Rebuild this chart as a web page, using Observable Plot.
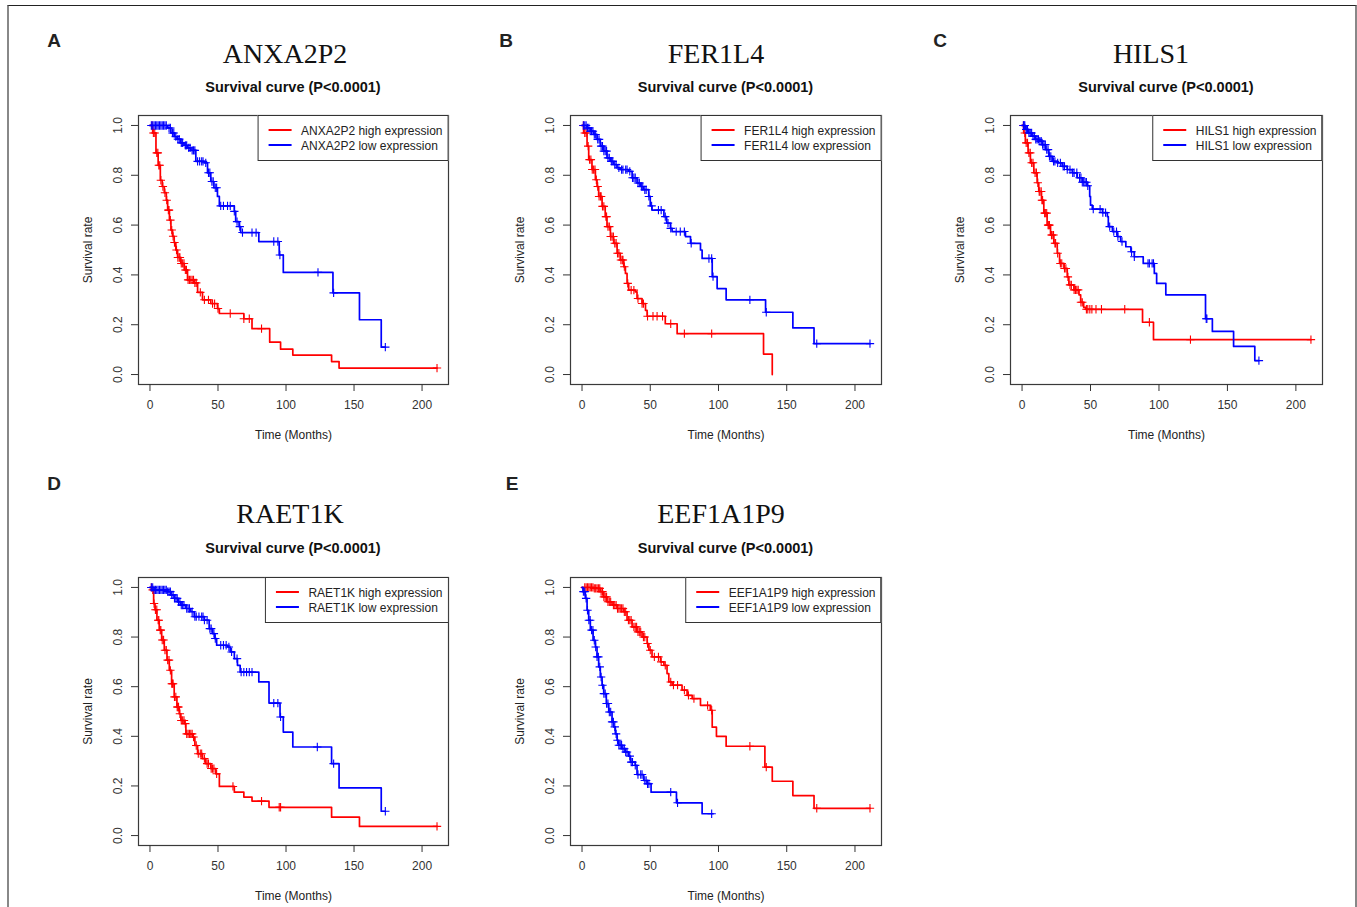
<!DOCTYPE html>
<html>
<head>
<meta charset="utf-8">
<script src="https://cdn.jsdelivr.net/npm/d3@7"></script>
<script src="https://cdn.jsdelivr.net/npm/@observablehq/plot@0.6"></script>
<style>
  html, body { margin: 0; padding: 0; background: #fff; }
  #fig { position: relative; width: 1357px; height: 907px; overflow: hidden; font-family: "Liberation Sans", Arial, sans-serif; color: #222; }
  .border { position: absolute; left: 7px; top: 5px; width: 1346px; height: 960px; border-top: 1.5px solid #222; border-left: 2px solid #888; border-right: 2px solid #888; }
  .letter { position: absolute; font-weight: bold; font-size: 19px; line-height: 1; transform: translate(-50%, -50%); }
  .title { position: absolute; font-family: "Liberation Serif", "Times New Roman", serif; font-size: 28px; line-height: 1; white-space: nowrap; transform: translate(-50%, -50%); color: #111; }
  .subtitle { position: absolute; font-weight: bold; font-size: 14.5px; line-height: 1; white-space: nowrap; transform: translate(-50%, -50%); color: #111; }
  .plotwrap { position: absolute; }
  .legend { position: absolute; transform: translateX(-100%); border: 1px solid #333; background: #fff; font-size: 12px; line-height: 15px; padding: 8px 5px 6px 10px; white-space: nowrap; color: #222; }
  .seg { display: inline-block; width: 23px; height: 2px; vertical-align: middle; margin-right: 10px; position: relative; top: -1px; }
</style>
</head>
<body>
<div id="fig"><div class="border"></div></div>
<script>
// ---------- data ----------
const genes = ["ANXA2P2", "FER1L4", "HILS1", "RAET1K", "EEF1A1P9"];
const panelLetters = ["A", "B", "C", "D", "E"];
const subtitleText = "Survival curve (P<0.0001)";
const xLabel = "Time (Months)";
const yLabel = "Survival rate";
const xTicks = [0, 50, 100, 150, 200];
const yTicks = [0, 0.2, 0.4, 0.6, 0.8, 1.0];
const groupNames = ["high expression", "low expression"];

// ANXA2P2
const anxaHighT = [0, 2, 4.4, 6, 7.6, 9, 10.5, 12, 13, 14.3, 15.4, 16.6, 17.8, 19, 20.3, 22.7, 25.2, 27.6, 32.5, 35, 38.6, 44.7, 49.6, 51, 69, 75, 88, 96, 105, 133.5, 139, 211];
const anxaHighS = [1, 0.97, 0.89, 0.84, 0.78, 0.755, 0.73, 0.70, 0.66, 0.62, 0.58, 0.555, 0.53, 0.50, 0.47, 0.446, 0.42, 0.38, 0.368, 0.33, 0.30, 0.285, 0.265, 0.245, 0.224, 0.184, 0.13, 0.102, 0.078, 0.052, 0.026, 0.026];
const anxaHighCens = [1.5, 2.5, 3.5, 5, 5.8, 6.5, 7.2, 8, 9.5, 11, 12.3, 13.5, 14, 15, 16, 17, 18, 19.5, 20.5, 21.5, 22, 23, 24, 25, 26, 26.8, 28, 29, 30, 31, 32, 33, 34, 37, 40, 43, 46, 47.5, 50, 59, 69, 73, 82, 211];
const anxaLowT = [0, 13, 15.4, 18, 20, 22.5, 25, 27.5, 30, 33.7, 40, 42.3, 44.7, 47, 49.6, 51, 62, 63, 65.5, 66.7, 80, 95, 98, 134.5, 154, 170, 173];
const anxaLowS = [1, 0.99, 0.97, 0.955, 0.945, 0.93, 0.92, 0.91, 0.90, 0.856, 0.85, 0.81, 0.775, 0.75, 0.715, 0.677, 0.655, 0.614, 0.594, 0.57, 0.534, 0.48, 0.41, 0.328, 0.22, 0.11, 0.11];
const anxaLowCens = [1, 2, 3, 4, 5, 6, 7, 8, 9, 10, 11, 12, 14, 15, 16.5, 17.5, 19, 20.5, 21.5, 23, 24, 26, 27, 28.5, 29.5, 31, 32, 33, 35, 36.5, 38, 39, 41, 43, 44, 45.5, 46.5, 48, 49, 52, 54, 57, 59, 62, 64, 66, 68, 75, 78, 91, 94, 95.5, 123.5, 135, 173];

// FER1L4
const ferHighT = [0, 1.2, 3.7, 4.9, 7.3, 9.8, 11, 12.2, 14.7, 17, 18.3, 20.8, 23.2, 25.7, 28, 30.6, 31.8, 33, 34.2, 39, 40.3, 44, 46.5, 47.7, 61, 69.7, 133, 139.4];
const ferHighS = [1, 0.97, 0.917, 0.863, 0.823, 0.782, 0.755, 0.715, 0.675, 0.634, 0.594, 0.554, 0.527, 0.487, 0.46, 0.433, 0.406, 0.366, 0.339, 0.332, 0.305, 0.285, 0.258, 0.234, 0.204, 0.164, 0.082, 0];
const ferHighCens = [1, 2, 3, 4.5, 5.5, 6.5, 7.5, 8.5, 9.5, 10.5, 11.5, 12.5, 13.5, 14, 15, 16, 17.5, 18, 19, 20, 21, 22, 23, 24, 25, 26, 27, 28.5, 29.5, 30, 31, 33.5, 36, 38, 41, 44, 45, 48, 52, 55, 59, 65, 75, 95];
const ferLowT = [0, 3.7, 6, 8.6, 11, 13.4, 15.9, 18.3, 20.8, 23.2, 25.7, 28, 34.2, 36.7, 40.3, 42.8, 45, 48.9, 50, 51.3, 60, 62, 64.8, 66, 75.8, 79.5, 86.8, 88, 95.4, 99, 105.6, 134.5, 154.5, 170, 211];
const ferLowS = [1, 0.99, 0.977, 0.964, 0.944, 0.917, 0.897, 0.87, 0.856, 0.843, 0.83, 0.823, 0.816, 0.79, 0.769, 0.755, 0.742, 0.715, 0.677, 0.66, 0.634, 0.608, 0.587, 0.574, 0.554, 0.527, 0.5, 0.466, 0.393, 0.345, 0.30, 0.25, 0.187, 0.124, 0.124];
const ferLowCens = [1, 2, 3, 4, 5, 6, 7, 8, 9, 10, 11.5, 12.5, 14, 15, 16, 17, 18, 19, 20, 21.5, 22.5, 24, 25, 27, 29, 30, 32, 33, 35, 37, 38, 39, 41, 42, 43.5, 44.5, 46, 47, 49, 51, 56, 58, 61, 63, 65, 69, 72, 75, 80, 93, 95, 96, 123, 135, 172, 211];

// HILS1
const hilsHighT = [0, 1.2, 2.4, 4.4, 6.1, 8.6, 11, 12.2, 14.2, 15.9, 18.3, 20.8, 23.2, 25.7, 27.4, 30.6, 33, 34.2, 37.9, 41.6, 42.8, 45, 46.5, 88, 96, 211];
const hilsHighS = [1, 0.97, 0.93, 0.89, 0.85, 0.81, 0.77, 0.735, 0.70, 0.648, 0.60, 0.56, 0.527, 0.487, 0.446, 0.426, 0.392, 0.36, 0.34, 0.32, 0.29, 0.27, 0.262, 0.21, 0.14, 0.14];
const hilsHighCens = [1, 2, 3, 4, 5, 6, 7, 8, 9.5, 10.5, 11.5, 12.5, 13, 14, 14.5, 15, 16.5, 17, 18, 19, 19.5, 20, 21.5, 22, 23, 24, 24.5, 26, 28, 29, 31, 32, 33.5, 35, 36, 38, 39, 40, 41, 43, 44, 47, 48, 49.5, 51, 54, 58, 75, 93, 123, 211];
const hilsLowT = [0, 2.4, 4.9, 7.3, 9.8, 12.2, 14.7, 17.1, 19.6, 22, 25.7, 29.3, 33, 36.7, 40.3, 44, 47.7, 49.4, 50, 51.3, 58.7, 62.3, 63, 66, 69.7, 72, 75.8, 79.5, 82, 88.5, 96.6, 98.3, 105, 134, 139, 154.5, 170, 173];
const hilsLowS = [1, 0.984, 0.97, 0.957, 0.944, 0.937, 0.923, 0.903, 0.876, 0.856, 0.85, 0.836, 0.823, 0.81, 0.79, 0.772, 0.758, 0.715, 0.68, 0.664, 0.65, 0.634, 0.594, 0.574, 0.554, 0.534, 0.513, 0.493, 0.473, 0.446, 0.406, 0.366, 0.32, 0.224, 0.173, 0.113, 0.056, 0.056];
const hilsLowCens = [1, 1.5, 2, 3, 3.5, 4, 5, 6, 7, 8, 9, 10, 11, 12, 13, 14, 15, 16, 17, 18, 19, 20, 21, 23, 24, 26, 28, 30, 31, 33, 35, 37, 38, 40, 42, 43, 44, 45, 46, 47, 48, 52, 57, 59, 61, 64, 67, 69, 70, 73, 80, 82, 92, 93, 95, 96, 134.5, 135, 173];

// RAET1K
const raetHighT = [0, 1.2, 2.7, 3.7, 5.1, 6.8, 8.6, 10.5, 12.5, 14.2, 15.9, 17.8, 19.8, 21.5, 22.7, 25.2, 26.4, 31.3, 33, 35, 38.6, 41, 44.7, 48.4, 51, 62, 69, 75, 87.5, 133.5, 154, 211];
const raetHighS = [1, 0.99, 0.935, 0.91, 0.868, 0.828, 0.788, 0.747, 0.707, 0.666, 0.612, 0.559, 0.518, 0.491, 0.464, 0.451, 0.41, 0.397, 0.363, 0.33, 0.31, 0.29, 0.27, 0.249, 0.198, 0.175, 0.155, 0.139, 0.114, 0.074, 0.037, 0.037];
const raetHighCens = [1, 2, 3, 4, 5, 6, 6.5, 7.5, 8, 9, 10, 11, 12, 13, 14, 15, 16, 16.5, 17, 18, 19, 20, 20.5, 21, 22, 23, 24, 25, 26, 27, 28, 29, 30, 31, 32, 34, 35.5, 37, 38, 40, 42, 43, 45, 46, 47, 49, 61, 82, 95, 96, 211];
const raetLowT = [0, 3, 13, 15.4, 17.8, 20.3, 22.7, 26.4, 30, 32.5, 40, 43.5, 46, 47.7, 49, 57, 59, 62, 64.3, 66.3, 80, 87.5, 95.6, 98, 105, 133.5, 139, 170, 173];
const raetLowS = [1, 0.99, 0.983, 0.97, 0.956, 0.942, 0.929, 0.915, 0.902, 0.882, 0.868, 0.834, 0.814, 0.794, 0.767, 0.76, 0.74, 0.713, 0.686, 0.659, 0.619, 0.534, 0.478, 0.417, 0.357, 0.29, 0.192, 0.098, 0.098];
const raetLowCens = [1, 2, 3, 4, 5, 6, 7, 8, 9, 10, 11, 12, 13, 14, 15, 16, 17, 18, 19, 20, 21, 22, 23, 24, 25, 27, 28, 29, 31, 33, 34, 36, 38, 39, 40, 42, 44, 45, 47, 48, 52, 54, 56, 58, 60, 64, 67, 69, 71, 73, 75, 91, 94, 96, 123, 135, 173];

// EEF1A1P9
const eefHighT = [0, 8.6, 13.4, 15.9, 18.3, 22, 25.7, 30.6, 33, 36.7, 40.3, 44, 47.7, 49, 51.3, 57.5, 60, 62.3, 63.6, 66, 73.3, 77, 80.7, 86.8, 94, 95.4, 98.5, 105.6, 134, 139.4, 154.5, 170, 211];
const eefHighS = [1, 0.996, 0.983, 0.962, 0.942, 0.929, 0.915, 0.902, 0.868, 0.841, 0.821, 0.80, 0.774, 0.747, 0.72, 0.70, 0.686, 0.653, 0.619, 0.606, 0.586, 0.565, 0.552, 0.525, 0.505, 0.437, 0.40, 0.36, 0.276, 0.219, 0.161, 0.11, 0.11];
const eefHighCens = [2, 3, 4, 5, 6, 7, 8, 9, 10, 11, 12, 13, 14, 15, 16, 17, 18, 19, 20, 21, 23, 24, 25, 26, 27, 28, 29, 30, 31, 32, 34, 35, 36, 38, 39, 40, 41, 42, 43, 45, 46, 48, 50, 53, 56, 58, 61, 65, 67, 70, 75, 78, 82, 92, 95, 123, 135, 172, 211];
const eefLowT = [0, 0.7, 2.4, 3.7, 4.9, 6.1, 8.1, 9.8, 11, 12.2, 13.4, 14.7, 15.9, 17.8, 19.6, 22, 23.2, 24.4, 25.7, 26.9, 29.3, 31.8, 34.2, 35.5, 39, 40.3, 45.2, 47.7, 50.6, 69.2, 88, 96];
const eefLowS = [1, 0.983, 0.956, 0.908, 0.868, 0.828, 0.787, 0.76, 0.72, 0.68, 0.639, 0.606, 0.572, 0.532, 0.498, 0.458, 0.438, 0.41, 0.384, 0.364, 0.35, 0.337, 0.32, 0.296, 0.283, 0.246, 0.222, 0.209, 0.175, 0.132, 0.088, 0.088];
const eefLowCens = [1, 2, 3, 4, 5, 6, 7, 8, 9, 10, 11, 12, 13, 14, 15, 16, 17, 18, 19, 20, 21, 22, 23, 24, 25, 26, 27, 28, 29, 30, 31, 32, 33, 35, 36, 37, 39, 41, 43, 44, 46, 47, 48, 49, 65, 70, 95];

const series = [
  [[anxaHighT, anxaHighS, anxaHighCens], [anxaLowT, anxaLowS, anxaLowCens]],
  [[ferHighT, ferHighS, ferHighCens], [ferLowT, ferLowS, ferLowCens]],
  [[hilsHighT, hilsHighS, hilsHighCens], [hilsLowT, hilsLowS, hilsLowCens]],
  [[raetHighT, raetHighS, raetHighCens], [raetLowT, raetLowS, raetLowCens]],
  [[eefHighT, eefHighS, eefHighCens], [eefLowT, eefLowS, eefLowCens]]
];

// ---------- layout (positions and styles) ----------
const layout = [
  {left: 138, top: 115, w: 310, h: 269, titleX: 285, titleY: 54, subY: 87, letterX: 54, letterY: 40},
  {left: 570, top: 115, w: 311, h: 269, titleX: 716, titleY: 54, subY: 87, letterX: 506, letterY: 40},
  {left: 1010, top: 115, w: 312, h: 269, titleX: 1151, titleY: 54, subY: 87, letterX: 940, letterY: 40},
  {left: 138, top: 577, w: 310, h: 268, titleX: 290, titleY: 514, subY: 548, letterX: 54, letterY: 483},
  {left: 570, top: 577, w: 311, h: 268, titleX: 721, titleY: 514, subY: 548, letterX: 512, letterY: 483}
];
const colors = ["#ff0000", "#0000ff"];
const mL = 70, mT = 10, mR = 12, mB = 66;
const xDomain = [-8.44, 219.44];
const yDomain = [-0.04, 1.04];

function stepTable(ts, ss) { return ts.map((t, i) => ({t, s: ss[i]})); }
function survAt(ts, ss, c) { let v = ss[0]; for (let i = 0; i < ts.length; i++) if (ts[i] <= c) v = ss[i]; return v; }

const fig = document.getElementById("fig");
function addDiv(cls, x, y, text) {
  const d = document.createElement("div");
  d.className = cls; d.style.left = x + "px"; d.style.top = y + "px"; d.textContent = text;
  fig.appendChild(d); return d;
}

genes.forEach((gene, p) => {
  const L = layout[p];
  addDiv("letter", L.letterX, L.letterY, panelLetters[p]);
  addDiv("title", L.titleX, L.titleY, gene);
  addDiv("subtitle", L.left + L.w / 2, L.subY, subtitleText);

  const marks = [
    Plot.frame({stroke: "#3a3a3a", strokeWidth: 1.2}),
    Plot.axisX({ticks: xTicks, tickSize: 7, tickPadding: 9, tickFormat: d => String(d), label: null, color: "#333"}),
    Plot.axisY({ticks: yTicks, tickSize: 7, tickPadding: 10, tickRotate: -90, tickFormat: d3.format(".1f"), label: null, color: "#333"}),
    Plot.text([xLabel], {frameAnchor: "bottom", dy: 51, text: d => d, textAnchor: "middle", lineAnchor: "middle", fontSize: 12, fill: "#222"}),
    Plot.text([yLabel], {frameAnchor: "left", dx: -50, rotate: -90, text: d => d, textAnchor: "middle", lineAnchor: "middle", fontSize: 12, fill: "#222"})
  ];
  series[p].forEach(([ts, ss, cens], g) => {
    marks.push(Plot.line(stepTable(ts, ss), {x: "t", y: "s", curve: "step-after", stroke: colors[g], strokeWidth: 1.7}));
    const cdata = cens.map(c => ({t: c, s: survAt(ts, ss, c)}));
    marks.push(Plot.dot(cdata, {x: "t", y: "s", symbol: "plus", r: 2.8, stroke: colors[g], strokeWidth: 1.1}));
  });

  const chart = Plot.plot({
    width: mL + L.w + mR,
    height: mT + L.h + mB,
    marginLeft: mL, marginTop: mT, marginRight: mR, marginBottom: mB,
    x: {domain: xDomain, label: null},
    y: {domain: yDomain, label: null},
    style: {fontFamily: "Liberation Sans, Arial, sans-serif", fontSize: "12px", color: "#222", background: "transparent", overflow: "visible"},
    marks
  });
  const wrap = document.createElement("div");
  wrap.className = "plotwrap";
  wrap.style.left = (L.left - mL) + "px";
  wrap.style.top = (L.top - mT) + "px";
  wrap.appendChild(chart);
  fig.appendChild(wrap);

  const leg = document.createElement("div");
  leg.className = "legend";
  leg.style.left = (L.left + L.w + 0.5) + "px";
  leg.style.top = (L.top - 0.5) + "px";
  groupNames.forEach((gname, g) => {
    const row = document.createElement("div");
    const seg = document.createElement("span");
    seg.className = "seg"; seg.style.background = colors[g];
    const tx = document.createElement("span");
    tx.textContent = gene + " " + gname;
    row.appendChild(seg); row.appendChild(tx);
    leg.appendChild(row);
  });
  fig.appendChild(leg);
});
</script>
</body>
</html>
